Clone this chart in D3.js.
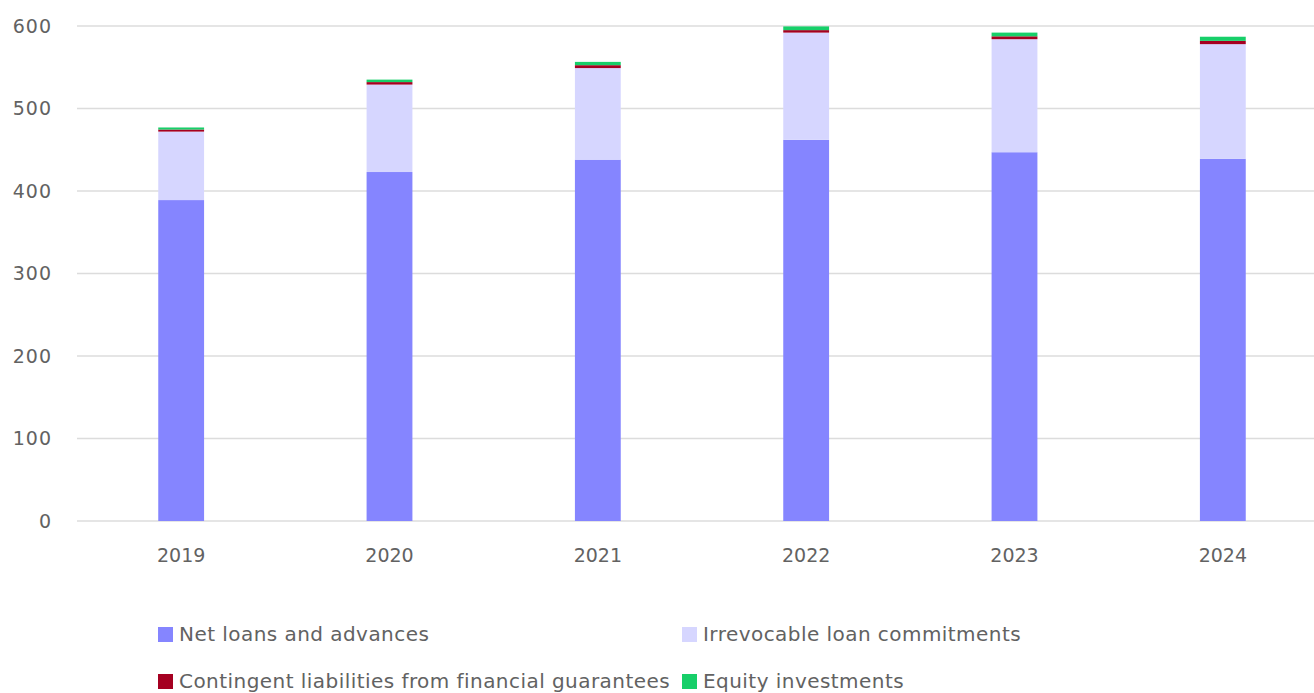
<!DOCTYPE html>
<html>
<head>
<meta charset="utf-8">
<script src="https://cdn.jsdelivr.net/npm/d3@7"></script>
<style>
  body { margin: 0; background: #fff; }
  text { font-family: "DejaVu Sans", sans-serif; fill: #626262; }
</style>
</head>
<body>
<div id="chart"></div>
<script>
// data
var years = ['2019', '2020', '2021', '2022', '2023', '2024'];
var netLoans = [389, 423, 438, 462, 447, 439];
var irrevocable = [83, 106, 111, 130, 137, 139];
var contingent = [2.5, 3, 3.5, 3, 3.5, 4];
var equity = [2.5, 3, 4, 4.5, 4.5, 5];
var yTicks = [0, 100, 200, 300, 400, 500, 600];

var seriesNames = ['Net loans and advances', 'Irrevocable loan commitments',
  'Contingent liabilities from financial guarantees', 'Equity investments'];
var colors = ['#8585ff', '#d6d6ff', '#a50021', '#17cf69'];

var W = 1314, H = 693;
var svg = d3.select('#chart').append('svg').attr('width', W).attr('height', H);

var rows = years.map(function(y, i) {
  return { year: y, s0: netLoans[i], s1: irrevocable[i], s2: contingent[i], s3: equity[i] };
});
var stack = d3.stack().keys(['s0', 's1', 's2', 's3'])(rows);

var x = d3.scaleBand().domain(years).range([77, 1327]).paddingInner(0.78).paddingOuter(0.39);
var y = d3.scaleLinear().domain([0, 600]).range([521, 26]);

// grid
svg.append('g').selectAll('line').data(yTicks).enter().append('line')
  .attr('x1', 77).attr('x2', W)
  .attr('y1', function(d) { return y(d); }).attr('y2', function(d) { return y(d); })
  .style('stroke', '#dcdcdc').style('stroke-width', 1.5);

// y labels
svg.append('g').selectAll('text').data(yTicks).enter().append('text')
  .attr('x', 52).attr('y', function(d) { return y(d); })
  .attr('dy', '.35em').attr('text-anchor', 'end')
  .style('font-size', '19px').style('letter-spacing', '1px').text(function(d) { return d; });

// bars
svg.append('g').selectAll('g').data(stack).enter().append('g')
  .style('fill', function(d, i) { return colors[i]; })
  .selectAll('rect').data(function(d) { return d; }).enter().append('rect')
  .attr('x', function(d) { return x(d.data.year); })
  .attr('width', x.bandwidth())
  .attr('y', function(d) { return y(d[1]); })
  .attr('height', function(d) { return y(d[0]) - y(d[1]); });

// x labels
svg.append('g').selectAll('text').data(years).enter().append('text')
  .attr('x', function(d) { return x(d) + x.bandwidth() / 2; })
  .attr('y', 555).attr('dy', '.35em').attr('text-anchor', 'middle')
  .style('font-size', '19px').text(function(d) { return d; });

// legend
var legPos = [[158, 634], [682, 634], [158, 681], [682, 681]];
var leg = svg.append('g').selectAll('g').data(seriesNames).enter().append('g')
  .attr('transform', function(d, i) { return 'translate(' + legPos[i][0] + ',' + legPos[i][1] + ')'; });
leg.append('rect').attr('x', 0).attr('y', -7).attr('width', 15).attr('height', 15)
  .style('fill', function(d, i) { return colors[i]; });
leg.append('text').attr('x', 21).attr('y', 0).attr('dy', '.35em')
  .style('font-size', '20px').style('letter-spacing', '0.45px').text(function(d) { return d; });
</script>
</body>
</html>
